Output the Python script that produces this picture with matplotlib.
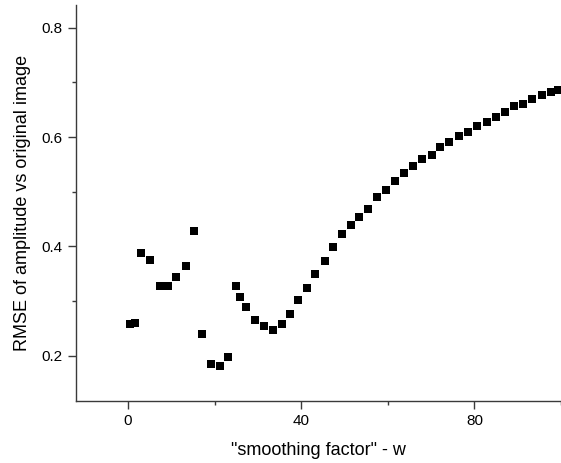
import matplotlib
matplotlib.use("Agg")
import matplotlib.pyplot as plt
from matplotlib.ticker import MultipleLocator

plt.rcParams['font.family'] = ['Liberation Sans', 'DejaVu Sans']

# smoothing factor w
w = [0.4, 1.7, 3.1, 5.2, 7.3, 9.2, 11.2, 13.3, 15.3, 17.2, 19.2, 21.3, 23.2,
     24.9, 25.8, 27.3, 29.4, 31.5, 33.5, 35.5, 37.4, 39.2,
     41.4, 43.3, 45.4, 47.4, 49.4, 51.4, 53.4, 55.5, 57.4, 59.6, 61.7, 63.8,
     65.9, 67.9, 70.1, 72.1, 74.2, 76.4, 78.5, 80.7, 82.8, 84.9, 87.1, 89.1,
     91.2, 93.2, 95.5, 97.6, 99.3]
# RMSE
rmse = [0.259, 0.260, 0.388, 0.376, 0.328, 0.328, 0.344, 0.365, 0.429, 0.239,
        0.185, 0.182, 0.197, 0.327, 0.307, 0.289, 0.266, 0.255, 0.247, 0.259,
        0.276, 0.302,
        0.324, 0.349, 0.373, 0.399, 0.422, 0.440, 0.454, 0.469, 0.490, 0.504,
        0.520, 0.534, 0.547, 0.559, 0.568, 0.581, 0.590, 0.601, 0.609, 0.620,
        0.628, 0.637, 0.646, 0.656, 0.660, 0.669, 0.676, 0.682, 0.686]

fig = plt.figure(figsize=(5.61, 4.63), dpi=100)
ax = fig.add_axes([0.1355, 0.1346, 0.8645, 0.8554])

ax.plot(w, rmse, 's', color='black', markersize=6.3, markeredgewidth=0)

ax.set_xlim(-12, 100)
ax.set_ylim(0.118, 0.842)

ax.xaxis.set_major_locator(MultipleLocator(40))
ax.xaxis.set_minor_locator(MultipleLocator(20))
ax.yaxis.set_major_locator(MultipleLocator(0.2))
ax.yaxis.set_minor_locator(MultipleLocator(0.1))

for side in ['top', 'right']:
    ax.spines[side].set_visible(False)
for side in ['left', 'bottom']:
    ax.spines[side].set_color('#3a3a3a')
    ax.spines[side].set_linewidth(1.0)

ax.tick_params(which='major', direction='out', length=5.5, width=1.0,
               color='#3a3a3a', labelsize=11, pad=4)
ax.tick_params(which='minor', direction='out', length=3, width=1.0,
               color='#3a3a3a')

ax.set_xlabel('"smoothing factor" - w', fontsize=13, labelpad=10)
ax.set_ylabel('RMSE of amplitude vs original image', fontsize=13, labelpad=8)

fig.savefig('out.png', dpi=100)
